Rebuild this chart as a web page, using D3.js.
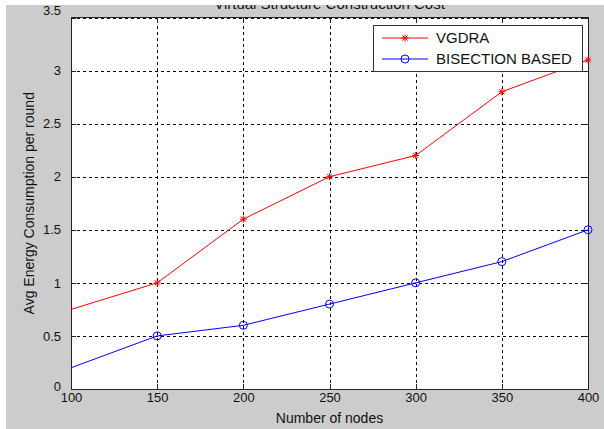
<!DOCTYPE html>
<html>
<head>
<meta charset="utf-8">
<script src="https://cdn.jsdelivr.net/npm/d3@7"></script>
<style>
  body { margin: 0; background: #fff; }
  svg text { font-family: Arial, "Liberation Sans", sans-serif; fill: #111; }
</style>
</head>
<body>
<div id="chart"></div>
<script>
// data (first point at 50 lies left of the visible x range, so only its line piece shows)
const nodes = [50, 100, 150, 200, 250, 300, 350, 400];
const vgdra = [0.5, 0.75, 1.0, 1.6, 2.0, 2.2, 2.8, 3.1];
const bisection = [-0.1, 0.2, 0.5, 0.6, 0.8, 1.0, 1.2, 1.5];
const xTicks = [100, 150, 200, 250, 300, 350, 400];
const yTicks = [0, 0.5, 1, 1.5, 2, 2.5, 3, 3.5];
const seriesNames = ['VGDRA', 'BISECTION BASED'];
const titleText = 'Virtual Structure Construction Cost';

const W = 604, H = 429;
const margin = { left: 71, right: 16, top: 17.5, bottom: 40 };
const width = W - margin.left - margin.right;
const height = H - margin.top - margin.bottom;

const svg = d3.select('#chart').append('svg')
  .attr('width', W).attr('height', H);

// figure background
svg.append('rect').attr('x', 6).attr('y', 5).attr('width', W - 6).attr('height', H - 5)
  .attr('fill', '#cccccc');

// title (the top of it is cut off by the image edge, as in the source)
svg.append('text')
  .attr('x', margin.left + width / 2).attr('y', 8.5)
  .attr('text-anchor', 'middle')
  .style('font-size', '15px')
  .text(titleText);
svg.append('rect').attr('x', 0).attr('y', 0).attr('width', W).attr('height', 5).attr('fill', '#fff');

const g = svg.append('g').attr('transform', `translate(${margin.left}, ${margin.top})`);

g.append('rect').attr('width', width).attr('height', height).attr('fill', '#fff');

const xScale = d3.scaleLinear().domain([100, 400]).range([0, width]);
const yScale = d3.scaleLinear().domain([0, 3.5]).range([height, 0]);

// grid lines
const gridX = g.append('g')
  .attr('transform', `translate(0, ${height})`)
  .call(d3.axisBottom(xScale).tickValues(xTicks).tickSize(-height).tickFormat(''));
const gridY = g.append('g')
  .call(d3.axisLeft(yScale).tickValues(yTicks).tickSize(-width).tickFormat(''));
[gridX, gridY].forEach(a => {
  a.select('.domain').remove();
  a.selectAll('line').attr('stroke', '#000').attr('stroke-dasharray', '3,3')
    .attr('shape-rendering', 'crispEdges');
});

// inner ticks on all four sides
const tickLen = 5;
const axB = g.append('g').attr('transform', `translate(0, ${height})`)
  .call(d3.axisBottom(xScale).tickValues(xTicks).tickSize(-tickLen).tickPadding(8).tickFormat(d3.format('d')));
const axT = g.append('g')
  .call(d3.axisTop(xScale).tickValues(xTicks).tickSize(-tickLen).tickFormat(''));
const axL = g.append('g')
  .call(d3.axisLeft(yScale).tickValues(yTicks).tickSize(-tickLen).tickPadding(10).tickFormat(d => d));
const axR = g.append('g').attr('transform', `translate(${width}, 0)`)
  .call(d3.axisRight(yScale).tickValues(yTicks).tickSize(-tickLen).tickFormat(''));
[axB, axT, axL, axR].forEach(a => {
  a.select('.domain').remove();
  a.selectAll('line').attr('stroke', '#222').attr('shape-rendering', 'crispEdges');
  a.selectAll('text').style('font-size', '13px').attr('fill', '#111');
});
axB.selectAll('text').attr('dy', '0.4em');
// matlab nudges the end labels away from each other
axL.selectAll('text').filter(d => d === 0).attr('dy', '0.1em');
axL.selectAll('text').filter(d => d === 3.5).attr('dy', '-0.2em');

// axes box
g.append('rect').attr('width', width).attr('height', height)
  .attr('fill', 'none').attr('stroke', '#222').attr('shape-rendering', 'crispEdges');

// clip for lines
svg.append('clipPath').attr('id', 'plotclip')
  .append('rect').attr('width', width).attr('height', height);

const line = d3.line()
  .x((d, i) => xScale(nodes[i]))
  .y(d => yScale(d));

const series = [
  { name: seriesNames[0], values: vgdra, color: '#ff0000', marker: 'star' },
  { name: seriesNames[1], values: bisection, color: '#0000ff', marker: 'circle' }
];

function drawMarker(sel, type, color) {
  if (type === 'star') {
    const r = 3.5, s = 2.6;
    sel.append('path')
      .attr('d', `M${-r},0L${r},0M0,${-r}L0,${r}M${-s},${-s}L${s},${s}M${-s},${s}L${s},${-s}`)
      .attr('stroke', color).attr('stroke-width', 1).attr('fill', 'none');
  } else {
    sel.append('circle').attr('r', 4)
      .attr('stroke', color).attr('stroke-width', 1).attr('fill', 'none');
  }
}

series.forEach(s => {
  g.append('path')
    .datum(s.values)
    .attr('clip-path', 'url(#plotclip)')
    .attr('fill', 'none')
    .attr('stroke', s.color)
    .attr('stroke-width', 1)
    .attr('d', line);

  const pts = s.values.map((v, i) => ({ x: nodes[i], y: v }))
    .filter(p => p.x > xScale.domain()[0] && p.x <= xScale.domain()[1]);
  g.selectAll(null).data(pts).enter().append('g')
    .attr('transform', p => `translate(${xScale(p.x)}, ${yScale(p.y)})`)
    .each(function () { drawMarker(d3.select(this), s.marker, s.color); });
});

// axis labels
svg.append('text')
  .attr('x', margin.left + width / 2).attr('y', 423)
  .attr('text-anchor', 'middle')
  .style('font-size', '14px')
  .text('Number of nodes');
svg.append('text')
  .attr('transform', `translate(34, ${margin.top + height / 2}) rotate(-90)`)
  .attr('text-anchor', 'middle')
  .style('font-size', '14px')
  .text('Avg Energy Consumption per round');

// legend
const legend = svg.append('g').attr('transform', 'translate(373, 25.5)');
legend.append('rect').attr('width', 209).attr('height', 45.5)
  .attr('fill', '#fff').attr('stroke', '#333').attr('shape-rendering', 'crispEdges');
series.forEach((s, i) => {
  const row = legend.append('g').attr('transform', `translate(0, ${12.5 + i * 21})`);
  row.append('line').attr('x1', 9).attr('x2', 55)
    .attr('stroke', s.color).attr('stroke-width', 1);
  drawMarker(row.append('g').attr('transform', 'translate(32, 0)'), s.marker, s.color);
  row.append('text').attr('x', 63).attr('dy', '0.36em')
    .style('font-size', '15px')
    .text(s.name);
});
</script>
</body>
</html>
